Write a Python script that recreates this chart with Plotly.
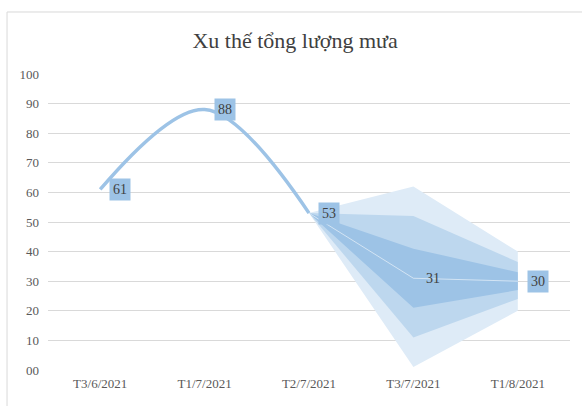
import plotly.graph_objects as go

categories = ["T3/6/2021", "T1/7/2021", "T2/7/2021", "T3/7/2021", "T1/8/2021"]
observed = [61, 88, 53, None, None]
forecast = [None, None, 53, 31, 30]
fan_x = ["T2/7/2021", "T3/7/2021", "T1/8/2021"]
outer_upper = [53, 62, 40]
outer_lower = [53, 1, 20]
middle_upper = [53, 52, 36.5]
middle_lower = [53, 11, 24]
inner_upper = [53, 41, 33]
inner_lower = [53, 21, 27]
ytick_vals = [0, 10, 20, 30, 40, 50, 60, 70, 80, 90, 100]
ytick_text = ["00", "10", "20", "30", "40", "50", "60", "70", "80", "90", "100"]

FONT = "Liberation Serif"
fig = go.Figure()

def band(upper, lower, color):
    xs = fan_x + fan_x[::-1]
    ys = upper + lower[::-1]
    fig.add_trace(go.Scatter(x=xs, y=ys, mode="lines", fill="toself",
                             fillcolor=color, line=dict(width=0),
                             hoverinfo="skip", showlegend=False))

band(outer_upper, outer_lower, "#DEEBF7")
band(middle_upper, middle_lower, "#BDD7EE")
band(inner_upper, inner_lower, "#9DC3E6")

fig.add_trace(go.Scatter(x=categories, y=observed, mode="lines",
                         line=dict(color="#9DC3E6", width=3.5, shape="spline", smoothing=1),
                         showlegend=False))
fig.add_trace(go.Scatter(x=categories, y=forecast, mode="lines",
                         line=dict(color="rgba(255,255,255,0.55)", width=1),
                         showlegend=False))

labels = [(categories[0], 61, True), (categories[1], 88, True), (categories[2], 53, True),
          (categories[3], 31, False), (categories[4], 30, True)]
for cx, v, boxed in labels:
    fig.add_annotation(x=cx, y=v, text=str(v), showarrow=False, xshift=20,
                       font=dict(family=FONT, size=14, color="#404040"),
                       bgcolor="#9DC3E6" if boxed else "rgba(0,0,0,0)",
                       borderpad=3)

fig.add_shape(type="path", xref="paper", yref="paper",
              path="M -0.0785,-0.13 L -0.0785,1.2095 L 1.03,1.2095",
              line=dict(color="#D9D9D9", width=1))

fig.update_layout(
    width=582, height=406,
    margin=dict(l=48, r=12, t=74, b=36),
    paper_bgcolor="white", plot_bgcolor="white",
    title=dict(text="Xu thế tổng lượng mưa", x=0.507, xanchor="center",
               y=0.9, yanchor="middle",
               font=dict(family=FONT, size=22, color="#404040")),
    xaxis=dict(type="category", categoryorder="array", categoryarray=categories,
               range=[-0.5, 4.5], showgrid=False, zeroline=False, showline=False,
               tickfont=dict(family=FONT, size=13, color="#595959"), ticks="",
               ticklabelstandoff=4),
    yaxis=dict(range=[0, 100], tickvals=ytick_vals, ticktext=ytick_text,
               showgrid=True, gridcolor="#D9D9D9", gridwidth=1, zeroline=False,
               showline=False, ticks="",
               tickfont=dict(family=FONT, size=13, color="#595959"),
               ticklabelstandoff=8),
    font=dict(family=FONT),
)

fig.write_html("out.html", config={"displayModeBar": False},
               post_script="document.body.style.margin='0';document.body.style.overflow='hidden';")
